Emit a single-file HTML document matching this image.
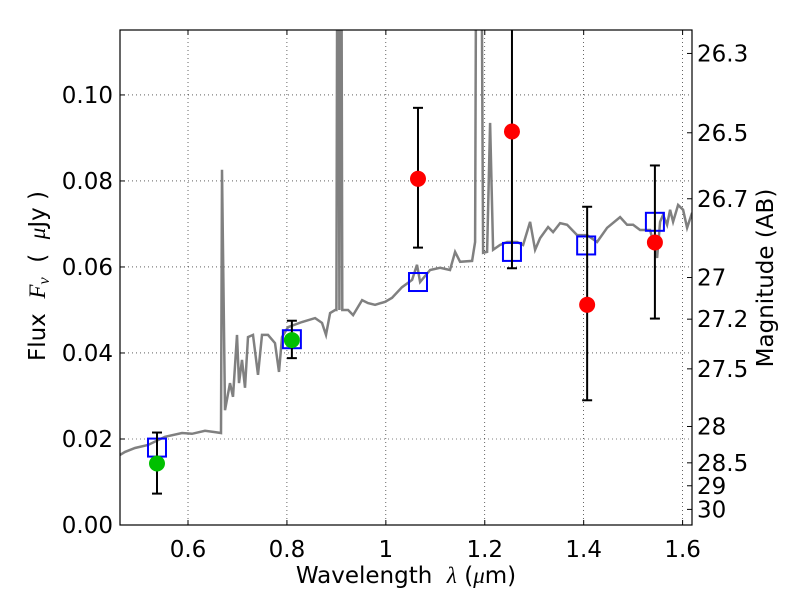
<!DOCTYPE html>
<html><head><meta charset="utf-8"><style>
body{margin:0;background:#fff}
svg text{font-family:"DejaVu Sans","Liberation Sans",sans-serif;fill:#000}
</style></head><body>
<svg id="c" width="800" height="600"></svg>
<script>
const specLam=[0.4625,0.4726,0.4928,0.5191,0.5535,0.5879,0.6081,0.6344,0.6546,0.6667,0.6688,0.6748,0.6849,0.691,0.6991,0.7031,0.7092,0.7153,0.7213,0.7315,0.7416,0.7497,0.7618,0.7759,0.784,0.7901,0.8022,0.8305,0.857,0.871,0.8791,0.8872,0.8973,0.900,0.903,0.906,0.909,0.912,0.9236,0.9337,0.9519,0.964,0.9782,0.9984,1.0125,1.0327,1.053,1.063,1.0692,1.0894,1.1096,1.1298,1.14,1.1501,1.1743,1.1804,1.1845,1.1905,1.1966,1.2047,1.2107,1.2168,1.2309,1.2451,1.2653,1.2775,1.2916,1.3018,1.3119,1.328,1.3381,1.3523,1.3664,1.3867,1.4069,1.4271,1.4473,1.4736,1.4878,1.5,1.5141,1.5343,1.5484,1.5545,1.5606,1.5686,1.5747,1.5808,1.5909,1.601,1.6091,1.6192];
const specFlux=[0.0163,0.017,0.0179,0.0186,0.0205,0.0214,0.0212,0.0219,0.0216,0.0214,0.0826,0.0267,0.033,0.0298,0.0442,0.033,0.0384,0.0319,0.0437,0.0442,0.0349,0.0442,0.0442,0.0423,0.0356,0.0437,0.046,0.0472,0.0481,0.047,0.0442,0.0493,0.05,0.05,0.2,0.05,0.2,0.05,0.05,0.0488,0.0523,0.0516,0.0512,0.0519,0.0528,0.0553,0.057,0.0605,0.0565,0.0593,0.0598,0.0593,0.0635,0.0612,0.0614,0.0658,0.2,0.2,0.0633,0.0635,0.0935,0.064,0.0651,0.0658,0.0658,0.0651,0.0705,0.064,0.0667,0.0693,0.0681,0.0702,0.0698,0.0674,0.0674,0.0658,0.0691,0.0716,0.0698,0.0698,0.0686,0.0686,0.0621,0.0705,0.0721,0.0698,0.0733,0.0705,0.0744,0.0733,0.0691,0.0726];
const modelLam=[0.5373,0.81,1.065,1.255,1.405,1.544];
const modelFlux=[0.018,0.0432,0.0565,0.0635,0.065,0.0705];
const greenLam=[0.5373,0.81];
const greenFlux=[0.0143,0.043];
const greenLo=[0.0073,0.0388];
const greenHi=[0.0215,0.0475];
const redLam=[1.065,1.255,1.407,1.544];
const redFlux=[0.0805,0.0915,0.0512,0.0657];
const redLo=[0.0645,0.0597,0.029,0.048];
const redHi=[0.097,0.13,0.074,0.0836];
const xTicks=[0.6,0.8,1.0,1.2,1.4,1.6];
const xTickLabels=["0.6","0.8","1","1.2","1.4","1.6"];
const yTicks=[0,0.02,0.04,0.06,0.08,0.10];
const yTickLabels=["0.00","0.02","0.04","0.06","0.08","0.10"];
const magTicks=[26.3,26.5,26.7,27,27.2,27.5,28,28.5,29,30];
const magTickLabels=["26.3","26.5","26.7","27","27.2","27.5","28","28.5","29","30"];

const L=120,R=692,T=30,B=525,xmin=0.4625,xmax=1.619,ymin=0,ymax=0.1151;
const FS=23;
const X=v=>L+(v-xmin)/(xmax-xmin)*(R-L);
const Y=v=>B-(v-ymin)/(ymax-ymin)*(B-T);
const magToFlux=m=>Math.pow(10,(23.9-m)/2.5);
const svg=document.getElementById('c');
const NS='http://www.w3.org/2000/svg';
function mk(t,a,parent){const e=document.createElementNS(NS,t);for(const k in a)e.setAttribute(k,a[k]);(parent||svg).appendChild(e);return e;}
const defs=mk('defs',{});const cp=mk('clipPath',{id:'pc'},defs);mk('rect',{x:L,y:T,width:R-L,height:B-T},cp);

xTicks.forEach((v,i)=>{
 const g=mk('line',{x1:X(v),x2:X(v),y1:T,y2:B,stroke:'#000','stroke-width':0.6,'stroke-dasharray':'1,3'});
 
 
 const t1=mk('line',{x1:X(v),x2:X(v),y1:B,y2:B-5,stroke:'#000'});
 
 
 mk('line',{x1:X(v),x2:X(v),y1:T,y2:T+5,stroke:'#000'});
 const t=mk('text',{x:X(v),y:B+32,'text-anchor':'middle','font-size':FS});t.textContent=xTickLabels[i];
 
 
});
yTicks.forEach((v,i)=>{
 const g=mk('line',{x1:L,x2:R,y1:Y(v),y2:Y(v),stroke:'#000','stroke-width':0.6,'stroke-dasharray':'1,3'});
 
 
 mk('line',{x1:L,x2:L+5,y1:Y(v),y2:Y(v),stroke:'#000'});
 const t=mk('text',{x:L-7,y:Y(v)+8,'text-anchor':'end','font-size':FS});t.textContent=yTickLabels[i];
 
 
});
magTicks.forEach((m,i)=>{
 const y=Y(magToFlux(m));
 mk('line',{x1:R,x2:R-5,y1:y,y2:y,stroke:'#000'});
 const t=mk('text',{x:R+5,y:y+8,'font-size':FS});t.textContent=magTickLabels[i];
 
 
});

const d=specLam.map((l,i)=>(i?'L':'M')+X(l).toFixed(1)+','+Y(specFlux[i]).toFixed(1)).join('');
const sp=mk('path',{d:d,fill:'none',stroke:'#808080','stroke-width':2.5,'clip-path':'url(#pc)'});



modelLam.forEach((l,i)=>{
 const s=mk('rect',{x:X(l)-9,y:Y(modelFlux[i])-9,width:18,height:18,fill:'none',stroke:'#0000ff','stroke-width':2});
 
 
});
function err(l,lo,hi){
 const x=X(l);
 const e=mk('line',{x1:x,x2:x,y1:Y(lo),y2:Math.max(Y(hi),T),stroke:'#000','stroke-width':2});
 
 
 mk('line',{x1:x-5,x2:x+5,y1:Y(lo),y2:Y(lo),stroke:'#000','stroke-width':2});
 if(Y(hi)>=T)mk('line',{x1:x-5,x2:x+5,y1:Y(hi),y2:Y(hi),stroke:'#000','stroke-width':2});
}
greenLam.forEach((l,i)=>err(l,greenLo[i],greenHi[i]));
redLam.forEach((l,i)=>err(l,redLo[i],redHi[i]));
greenLam.forEach((l,i)=>{
 const c=mk('circle',{cx:X(l),cy:Y(greenFlux[i]),r:8,fill:'#00c000'});
 
 
});
redLam.forEach((l,i)=>{
 const c=mk('circle',{cx:X(l),cy:Y(redFlux[i]),r:8,fill:'#ff0000'});
 
 
});

const fr=mk('rect',{x:L,y:T,width:R-L,height:B-T,fill:'none',stroke:'#000','stroke-width':1.2});


</script>
<svg width="800" height="600" style="position:absolute;left:0;top:0;pointer-events:none">
<text x="406" y="583" text-anchor="middle" font-size="23" xml:space="preserve">Wavelength  <tspan font-family="Liberation Serif" font-style="italic">λ</tspan> (<tspan font-family="Liberation Serif" font-style="italic">μ</tspan>m)</text>
<text transform="translate(45,276) rotate(-90)" text-anchor="middle" font-size="23" xml:space="preserve">Flux  <tspan font-family="Liberation Serif" font-style="italic">F</tspan><tspan font-family="Liberation Serif" font-style="italic" font-size="16" dy="4">ν</tspan><tspan dy="-4">  (  </tspan><tspan font-family="Liberation Serif" font-style="italic">μ</tspan>Jy )</text>
<text transform="translate(773,278) rotate(-90)" text-anchor="middle" font-size="23">Magnitude (AB)</text>
</svg>
</body></html>
